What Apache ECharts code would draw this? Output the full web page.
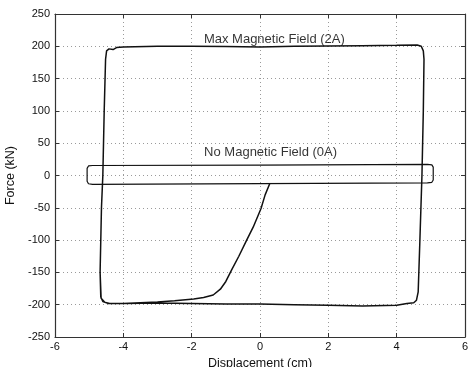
<!DOCTYPE html>
<html>
<head>
<meta charset="utf-8">
<script src="https://cdn.jsdelivr.net/npm/echarts@6/dist/echarts.min.js"></script>
<style>
  html, body { margin: 0; padding: 0; background: #fff; }
  #chart { width: 470px; height: 367px; }
</style>
</head>
<body>
<div id="chart"></div>
<script>
// Force-displacement loop with the coil energised (2A): initial loading curve then full cycle
const maxFieldX = [0.29, 0.15, 0.03, -0.2, -0.39, -0.62, -0.83, -1.0, -1.16, -1.37, -1.65, -1.94, -2.5, -3.0, -3.5, -4.0, -4.4, -4.55, -4.65, -4.68, -4.64, -4.6, -4.56, -4.52, -4.49, -4.42, -4.3, -4.2, -4.0, -3.0, -2.0, -1.0, 0.0, 1.0, 2.0, 3.0, 4.0, 4.6, 4.72, 4.78, 4.8, 4.78, 4.74, 4.68, 4.63, 4.58, 4.5, 4.3, 4.0, 3.0, 2.0, 1.0, 0.0, -1.0, -2.0, -3.0, -4.0, -4.45, -4.6, -4.66, -4.68];
const maxFieldY = [-12, -30, -51, -80, -100, -125, -146, -164, -176, -185, -189, -191, -194, -196, -197, -198, -198, -196, -190, -150, -50, 0, 100, 180, 193, 196, 195, 198, 199, 200, 200, 199.5, 199, 200, 200.5, 201, 201.5, 202, 200, 193, 180, 100, 0, -100, -180, -193, -197, -198, -201, -202, -201, -200, -199, -199, -198, -197.5, -198, -198, -195, -188, -150];

// Force-displacement loop with no coil current (0A)
const noFieldX = [-4.9, 0.0, 4.9, 5.03, 5.07, 5.07, 5.03, 4.9, 0.0, -4.9, -5.02, -5.06, -5.06, -5.02, -4.9];
const noFieldY = [15.5, 16.2, 17.3, 16.5, 13, -7, -10.5, -11.5, -12.5, -13.8, -12.8, -9, 11, 14.8, 15.5];

// Curve annotations
const annotationText = ['Max Magnetic Field (2A)', 'No Magnetic Field (0A)'];
const annotationX = [0.42, 0.31];
const annotationY = [211, 35];

const xTicks = [-6, -4, -2, 0, 2, 4, 6];
const yTicks = [-250, -200, -150, -100, -50, 0, 50, 100, 150, 200, 250];

const pairs = (xs, ys) => xs.map((x, i) => [x, ys[i]]);

const ink = '#111';
const font = 'Liberation Sans, Arial, Helvetica, sans-serif';

const axisCommon = {
  type: 'value',
  axisLine: { show: true, onZero: false, lineStyle: { color: '#333', width: 1.2 } },
  axisTick: { show: true, inside: true, length: 4, lineStyle: { color: '#333' } },
  splitLine: { show: false }
};

const chart = echarts.init(document.getElementById('chart'), null, { renderer: 'canvas' });
chart.setOption({
  backgroundColor: '#fff',
  animation: false,
  grid: { left: 55, right: 5, top: 14, bottom: 30, containLabel: false, outerBoundsMode: 'none' },
  xAxis: [
    Object.assign({}, axisCommon, {
      position: 'bottom',
      min: xTicks[0], max: xTicks[xTicks.length - 1], interval: 2,
      name: 'Displacement (cm)', nameLocation: 'middle', nameGap: 16,
      nameTextStyle: { fontFamily: font, fontSize: 12.5, color: ink },
      axisLabel: { fontFamily: font, fontSize: 11, color: ink, margin: 4 },
      splitLine: { show: true, lineStyle: { color: '#9a9a9a', type: [1, 3], width: 1 } }
    }),
    Object.assign({}, axisCommon, {
      position: 'top',
      min: xTicks[0], max: xTicks[xTicks.length - 1], interval: 2,
      axisLabel: { show: false }
    })
  ],
  yAxis: [
    Object.assign({}, axisCommon, {
      position: 'left',
      min: yTicks[0], max: yTicks[yTicks.length - 1], interval: 50,
      name: 'Force (kN)', nameLocation: 'middle', nameGap: 33,
      nameTextStyle: { fontFamily: font, fontSize: 12.5, color: ink },
      axisLabel: { fontFamily: font, fontSize: 11, color: ink, margin: 5 },
      splitLine: { show: true, lineStyle: { color: '#9a9a9a', type: [1, 3], width: 1 } }
    }),
    Object.assign({}, axisCommon, {
      position: 'right',
      min: yTicks[0], max: yTicks[yTicks.length - 1], interval: 50,
      axisLabel: { show: false }
    })
  ],
  series: [
    {
      type: 'line', name: 'Max Magnetic Field (2A)',
      data: pairs(maxFieldX, maxFieldY),
      showSymbol: false, smooth: false,
      lineStyle: { color: ink, width: 1.5 }
    },
    {
      type: 'line', name: 'No Magnetic Field (0A)',
      data: pairs(noFieldX, noFieldY),
      showSymbol: false, smooth: false,
      lineStyle: { color: ink, width: 1.2 }
    },
    {
      type: 'scatter', symbolSize: 0,
      data: annotationText.map((t, i) => ({ name: t, value: [annotationX[i], annotationY[i]] })),
      label: {
        show: true, position: 'inside', formatter: p => p.name,
        fontFamily: font, fontSize: 13, color: '#000', textBorderWidth: 0
      },
      emphasis: { disabled: true },
      silent: true
    }
  ]
});
</script>
</body>
</html>
